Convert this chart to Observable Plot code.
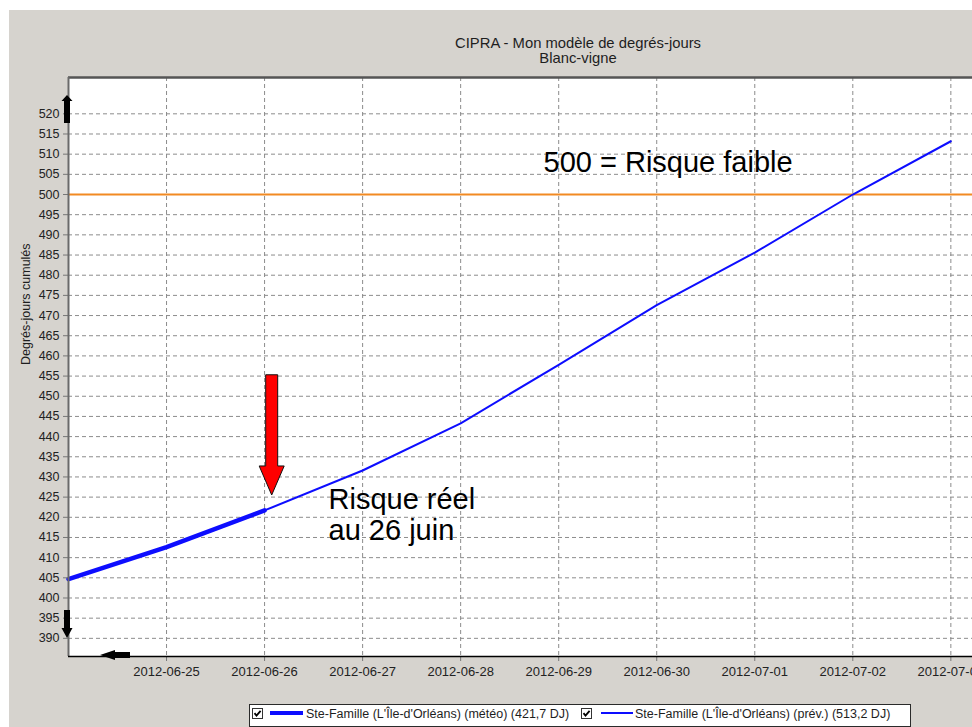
<!DOCTYPE html>
<html>
<head>
<meta charset="utf-8">
<script src="https://cdn.jsdelivr.net/npm/d3@7"></script>
<script src="https://cdn.jsdelivr.net/npm/@observablehq/plot@0.6"></script>
<style>
html, body { margin: 0; padding: 0; background: #ffffff; }
#wrap { position: relative; width: 972px; height: 727px; overflow: hidden; font-family: "Liberation Sans", Arial, sans-serif; }
#bg { position: absolute; left: 9px; top: 10px; right: 0; bottom: 0; background: #d6d3ce; }
#chart { position: absolute; left: 0; top: 0; }
.title { position: absolute; left: 378px; width: 400px; text-align: center; font-size: 14.8px; line-height: 1; color: #1e1e1e; white-space: nowrap; }
#legend { position: absolute; left: 249px; top: 704px; width: 662px; height: 23px; box-sizing: border-box; background: #fff; border: 1px solid #2a2a2a; }
#legend .cb { position: absolute; top: 3px; width: 11px; height: 11px; }
#legend .ln { position: absolute; background: #0d0dff; }
#legend .tx { position: absolute; top: 2.5px; font-size: 12.5px; line-height: 1; color: #1e1e1e; white-space: nowrap; }
</style>
</head>
<body>
<div id="wrap">
  <div id="bg"></div>
  <div id="chart"></div>
  <div class="title" id="t1" style="top:35.5px"></div>
  <div class="title" id="t2" style="top:50.5px"></div>
  <div id="legend"></div>
</div>
<script>
// ---------- data ----------
const titleText = "CIPRA - Mon modèle de degrés-jours";
const subtitleText = "Blanc-vigne";
const yLabel = "Degrés-jours cumulés";

const prevDates = ["2012-06-24","2012-06-25","2012-06-26","2012-06-27","2012-06-28","2012-06-29","2012-06-30","2012-07-01","2012-07-02","2012-07-03"];
const prevValues = [404.7, 412.6, 421.7, 431.6, 443.3, 457.8, 472.6, 485.6, 500.0, 513.2];

const meteoDates = ["2012-06-24","2012-06-25","2012-06-26"];
const meteoValues = [404.7, 412.6, 421.7];

const threshold = 500;

const yTicks = [390,395,400,405,410,415,420,425,430,435,440,445,450,455,460,465,470,475,480,485,490,495,500,505,510,515,520];
const xTicks = ["2012-06-25","2012-06-26","2012-06-27","2012-06-28","2012-06-29","2012-06-30","2012-07-01","2012-07-02","2012-07-03"];

const xDomain = ["2012-06-24T00:00Z", "2012-07-03T05:18Z"];
const yDomain = [385.5, 529];

const legendLabels = ["Ste-Famille (L'Île-d'Orléans) (météo) (421,7 DJ)", "Ste-Famille (L'Île-d'Orléans) (prév.) (513,2 DJ)"];

const annotations = [
  {x: "2012-06-28T20:17Z", y: 505.46, text: "500 = Risque faible"},
  {x: "2012-06-26T15:39Z", y: 414.25, text: "Risque réel\nau 26 juin"}
];
const redArrow = {x: "2012-06-26T01:52Z", top: 455.2, base: 432.6, tip: 425.4};

// ---------- build ----------
const prev = prevDates.map((d, i) => ({date: new Date(d), value: prevValues[i]}));
const meteo = meteoDates.map((d, i) => ({date: new Date(d), value: meteoValues[i]}));
const xTickDates = xTicks.map(d => new Date(d));
const notes = annotations.map(a => ({...a, x: new Date(a.x)}));

document.getElementById("t1").textContent = titleText;
document.getElementById("t2").textContent = subtitleText;

const gridStyle = {stroke: "#8c8c8c", strokeOpacity: 1, strokeDasharray: "4,3", strokeWidth: 1};

function redArrowMark(index, scales, values, dimensions) {
  const x = scales.x(new Date(redArrow.x));
  const yt = scales.y(redArrow.top), yb = scales.y(redArrow.base), yp = scales.y(redArrow.tip);
  const sw = 6, hw = 12.5;
  const d = `M${x - sw},${yt}L${x + sw},${yt}L${x + sw},${yb}L${x + hw},${yb}L${x},${yp}L${x - hw},${yb}L${x - sw},${yb}Z`;
  const g = d3.create("svg:path").attr("d", d).attr("fill", "#ff0000").attr("stroke", "#111").attr("stroke-width", 1);
  return g.node();
}

function scrollArrowsMark(index, scales, values, dimensions) {
  const ml = dimensions.marginLeft, mt = dimensions.marginTop, mb = dimensions.height - dimensions.marginBottom;
  const cx = ml - 1;
  const g = d3.create("svg:g").attr("fill", "#000");
  // up arrow
  g.append("path").attr("d", `M${cx - 3},${mt + 46}L${cx + 3},${mt + 46}L${cx + 3},${mt + 24}L${cx + 5.5},${mt + 24}L${cx},${mt + 18}L${cx - 5.5},${mt + 24}L${cx - 3},${mt + 24}Z`);
  // down arrow
  g.append("path").attr("d", `M${cx - 3},${mb - 46}L${cx + 3},${mb - 46}L${cx + 3},${mb - 28}L${cx + 5.5},${mb - 28}L${cx},${mb - 18}L${cx - 5.5},${mb - 28}L${cx - 3},${mb - 28}Z`);
  // left arrow
  const cy = mb - 1;
  g.append("path").attr("d", `M${ml + 62},${cy - 3}L${ml + 62},${cy + 3}L${ml + 47},${cy + 3}L${ml + 47},${cy + 5}L${ml + 32},${cy}L${ml + 47},${cy - 5}L${ml + 47},${cy - 3}Z`);
  return g.node();
}

const chart = Plot.plot({
  width: 972,
  height: 727,
  marginLeft: 68,
  marginRight: 0,
  marginTop: 77,
  marginBottom: 71,
  style: {background: "transparent", fontFamily: "'Liberation Sans', Arial, sans-serif", color: "#1e1e1e"},
  x: {type: "utc", domain: xDomain.map(d => new Date(d))},
  y: {domain: yDomain},
  marks: [
    Plot.frame({fill: "#ffffff", stroke: "none"}),
    Plot.gridY(yTicks, gridStyle),
    Plot.gridX(xTickDates, gridStyle),
    Plot.ruleY([threshold], {stroke: "#f28a22", strokeWidth: 2}),
    Plot.line(prev, {x: "date", y: "value", stroke: "#0d0dff", strokeWidth: 2}),
    Plot.line(meteo, {x: "date", y: "value", stroke: "#0d0dff", strokeWidth: 4.5}),
    Plot.axisY(yTicks, {tickSize: 5, tickPadding: 4, fontSize: 12.5, stroke: "#777", fill: "#222", label: null}),
    Plot.axisX(xTickDates, {tickSize: 5, tickPadding: 5, fontSize: 13, stroke: "#777", fill: "#222", label: null, tickFormat: d3.utcFormat("%Y-%m-%d")}),
    Plot.ruleY([yDomain[1]], {stroke: "#555", strokeWidth: 2.5}),
    Plot.ruleX([new Date(xDomain[0])], {stroke: "#6a6a6a", strokeWidth: 2}),
    Plot.ruleY([yDomain[0]], {stroke: "#000", strokeWidth: 1.5}),
    Plot.text([yLabel], {frameAnchor: "left", dx: -43, dy: -2, rotate: -90, fontSize: 12.5, fill: "#1e1e1e"}),
    Plot.text(notes, {x: "x", y: "y", text: "text", textAnchor: "start", lineAnchor: "bottom", lineHeight: 1.1, fontSize: 29, fill: "#000"}),
    redArrowMark,
    scrollArrowsMark
  ]
});
document.getElementById("chart").appendChild(chart);

// ---------- legend ----------
const legend = document.getElementById("legend");
function checkbox(left) {
  const s = d3.create("svg").attr("class", "cb").attr("width", 11).attr("height", 11).style("left", left + "px");
  s.append("rect").attr("x", 0.5).attr("y", 0.5).attr("width", 10).attr("height", 10).attr("fill", "#fff").attr("stroke", "#333");
  s.append("path").attr("d", "M2.5,5.2L4.5,7.6L8.6,2.8").attr("fill", "none").attr("stroke", "#000").attr("stroke-width", 1.8);
  return s.node();
}
legend.appendChild(checkbox(2));
const l1 = document.createElement("div"); l1.className = "ln"; l1.style.cssText = "left:20px;width:33px;top:6px;height:4px;"; legend.appendChild(l1);
const t1 = document.createElement("div"); t1.className = "tx"; t1.style.left = "56px"; t1.textContent = legendLabels[0]; legend.appendChild(t1);
legend.appendChild(checkbox(331));
const l2 = document.createElement("div"); l2.className = "ln"; l2.style.cssText = "left:351px;width:32px;top:7px;height:2px;"; legend.appendChild(l2);
const t2 = document.createElement("div"); t2.className = "tx"; t2.style.left = "385px"; t2.textContent = legendLabels[1]; legend.appendChild(t2);
</script>
</body>
</html>
